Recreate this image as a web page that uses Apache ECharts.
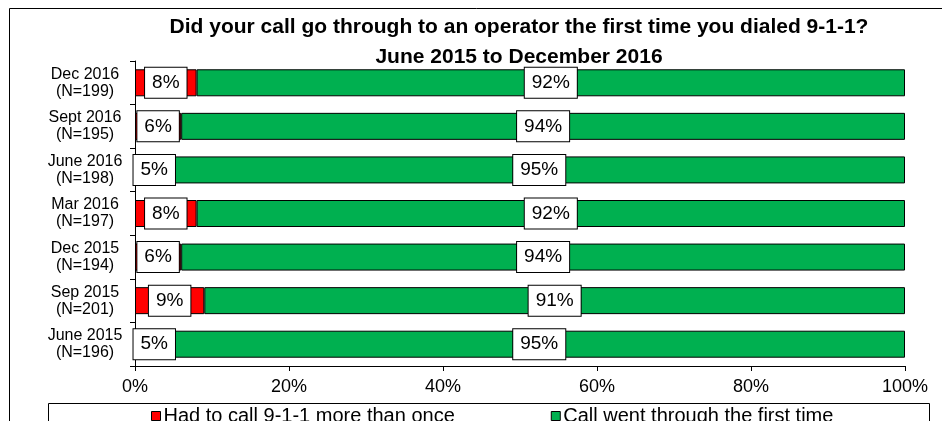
<!DOCTYPE html>
<html>
<head>
<meta charset="utf-8">
<script src="https://cdn.jsdelivr.net/npm/echarts@6/dist/echarts.min.js"></script>
<style>
html, body { margin: 0; padding: 0; background: #fff; }
#chart { width: 942px; height: 421px; }
</style>
</head>
<body>
<div id="chart"></div>
<script>
// 数据
var periods = ['Dec 2016\n(N=199)', 'Sept 2016\n(N=195)', 'June 2016\n(N=198)', 'Mar 2016\n(N=197)',
    'Dec 2015\n(N=194)', 'Sep 2015\n(N=201)', 'June 2015\n(N=196)'];
var moreThanOnce = [8, 6, 5, 8, 6, 9, 5];
var firstTime = [92, 94, 95, 92, 94, 91, 95];
var seriesNames = ['Had to call 9-1-1 more than once', 'Call went through the first time'];

var chart = echarts.init(document.getElementById('chart'));

var boxLabel = {
    show: true,
    position: 'inside',
    formatter: '{c}%',
    color: '#000',
    fontFamily: 'Liberation Sans',
    fontSize: 19,
    backgroundColor: '#fff',
    borderColor: '#000',
    borderWidth: 1,
    padding: [6, 7, 5, 7]
};

var option = {
    animation: false,
    title: {
        text: 'Did your call go through to an operator the first time you dialed 9-1-1?\nJune 2015 to December 2016',
        left: 514,
        top: 7,
        textAlign: 'center',
        textStyle: {
            fontFamily: 'Liberation Sans',
            fontWeight: 'bold',
            fontSize: 21,
            lineHeight: 30,
            color: '#000'
        }
    },
    legend: {
        data: seriesNames,
        left: 146,
        top: 401,
        icon: 'rect',
        itemWidth: 9,
        itemHeight: 9,
        itemGap: 96,
        itemStyle: { borderColor: '#000', borderWidth: 1 },
        textStyle: { fontFamily: 'Liberation Sans', fontSize: 20, color: '#000', padding: [0, 0, 0, -2] }
    },
    grid: { left: 135, right: 37, top: 61, bottom: 55 },
    xAxis: {
        type: 'value',
        min: 0,
        max: 100,
        interval: 20,
        position: 'bottom',
        axisLine: { show: true, lineStyle: { color: '#000', width: 1 } },
        axisTick: { show: true, length: 5, lineStyle: { color: '#000' } },
        splitLine: { show: false },
        axisLabel: {
            formatter: '{value}%',
            color: '#000',
            fontFamily: 'Liberation Sans',
            fontSize: 18,
            margin: 12
        }
    },
    yAxis: {
        type: 'category',
        inverse: true,
        data: periods,
        axisLine: { show: true, lineStyle: { color: '#000', width: 1 } },
        axisTick: { show: true, length: 5, lineStyle: { color: '#000' } },
        axisLabel: {
            color: '#000',
            fontFamily: 'Liberation Sans',
            fontSize: 16,
            lineHeight: 17,
            align: 'center',
            margin: 50
        }
    },
    series: [
        {
            name: seriesNames[0],
            type: 'bar',
            stack: 'total',
            barWidth: 27,
            data: moreThanOnce,
            itemStyle: { color: '#ff0000', borderColor: '#000', borderWidth: 1 },
            label: boxLabel
        },
        {
            name: seriesNames[1],
            type: 'bar',
            stack: 'total',
            barWidth: 27,
            data: firstTime,
            itemStyle: { color: '#00b050', borderColor: '#000', borderWidth: 1 },
            label: boxLabel
        }
    ],
    graphic: [
        {
            type: 'rect',
            shape: { x: 9.5, y: 8.5, width: 1000, height: 600 },
            style: { fill: null, stroke: '#000', lineWidth: 1 },
            silent: true,
            z: -1
        },
        {
            type: 'rect',
            shape: { x: 48.5, y: 403.5, width: 881, height: 60 },
            style: { fill: null, stroke: '#000', lineWidth: 1 },
            silent: true,
            z: -1
        }
    ]
};

chart.setOption(option);
</script>
</body>
</html>
